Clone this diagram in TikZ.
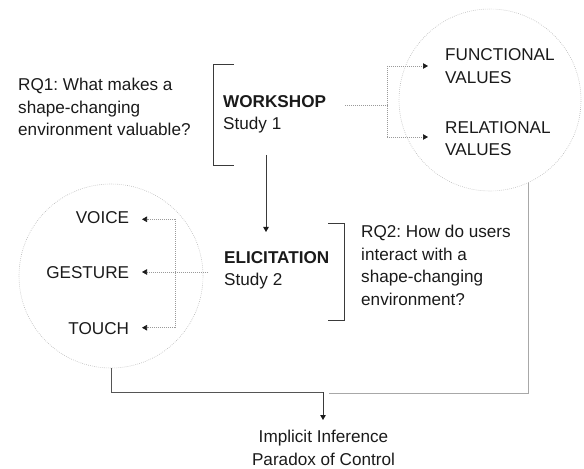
\documentclass[tikz,border=0pt]{standalone}
\usepackage{fontspec}
\setmainfont{Liberation Sans}
\usetikzlibrary{arrows.meta}
\frenchspacing
\definecolor{ink}{HTML}{1A1A1A}
\definecolor{rule}{HTML}{3A3A3A}
\definecolor{linkgray}{HTML}{9A9A9A}
\definecolor{ringgray}{HTML}{B8B8B8}
\definecolor{darkline}{HTML}{555555}
\definecolor{lightline}{HTML}{A8A8A8}
\begin{document}
\begin{tikzpicture}[x=1bp,y=-1bp,
  lbl/.style={inner sep=0pt, text=ink, font=\fontsize{17.2}{22.7}\selectfont, align=left},
  lblr/.style={lbl, align=right},
  lblc/.style={lbl, align=center},
  ring/.style={circle, draw=ringgray, line width=0.6pt, dash pattern=on 0.7pt off 1.3pt, inner sep=0pt},
  bracket/.style={draw=rule, line width=0.8pt},
  link/.style={draw=linkgray, line width=0.7pt, dash pattern=on 0.8pt off 1.2pt},
  tip/.style={-{Triangle[length=5bp,width=5.5bp,color=ink]}},
  flow/.style={line width=0.8pt},
]
\useasboundingbox (0,0) rectangle (584,469);

% circles grouping the outcomes of each study
\node[ring, minimum size=182bp] (cr) at (490,100) {};
\node[ring, minimum size=184bp] (cl) at (111,276) {};

% research questions (anchored on the baseline of the last line)
\node[lbl, anchor=base west] (rq1) at (18,136)
  {RQ1: What makes a\\shape-changing\\environment valuable?};
\node[lbl, anchor=base west] (rq2) at (361,305.3)
  {RQ2: How do users\\interact with a\\shape-changing\\environment?};

% studies
\node[lbl, anchor=base west] (ws) at (223,130) {\textbf{WORKSHOP}\\Study 1};
\node[lbl, anchor=base west] (el) at (224,286) {\textbf{ELICITATION}\\Study 2};

% brackets
\draw[bracket] (234,64) -- (213,64) -- (213,165) -- (234,165);
\draw[bracket] (328,223) -- (344,223) -- (344,320) -- (328,320);

% study 1 -> study 2
\coordinate (wsdown) at (266,155);
\coordinate (eltop) at (266,232);
\draw[flow, draw=rule, tip] (wsdown) -- (eltop);

% values of the workshop
\node[lbl, anchor=base west] (fv) at (445,83.3) {FUNCTIONAL\\VALUES};
\node[lbl, anchor=base west] (rv) at (445,156) {RELATIONAL\\VALUES};
\coordinate (wsout) at (345,105);
\coordinate (wsj) at (387,105);
\coordinate (fvtip) at (428,66);
\coordinate (rvtip) at (428,137);
\draw[link] (wsout) -- (wsj);
\draw[link] (fvtip -| wsj) -- (rvtip -| wsj);
\draw[link, tip] (fvtip -| wsj) -- (fvtip);
\draw[link, tip] (rvtip -| wsj) -- (rvtip);

% modalities of the elicitation
\node[lblr, anchor=base east] (voice) at (129.3,224) {VOICE};
\node[lblr, anchor=base east] (gesture) at (129.3,278.7) {GESTURE};
\node[lblr, anchor=base east] (touch) at (129.3,334) {TOUCH};
\coordinate (elout) at (208,272);
\coordinate (elj) at (175,272);
\coordinate (votip) at (142,219.3);
\coordinate (getip) at (142,272);
\coordinate (totip) at (142,327.7);
\draw[link] (votip -| elj) -- (totip -| elj);
\draw[link, tip] (elout) -- (getip);
\draw[link, tip] (votip -| elj) -- (votip);
\draw[link, tip] (totip -| elj) -- (totip);

% both studies lead to the findings
\node[lblc, anchor=base] (out) at (323.5,465) {Implicit Inference\\Paradox of Control};
\coordinate (lbend) at (111,392);
\coordinate (mid) at (323,392);
\coordinate (outtip) at (323,420);
\coordinate (rbend) at (528,393);
\coordinate (rend) at (329,393);
\draw[flow, draw=darkline] (cl.south) -- (lbend) -- (mid);
\draw[flow, draw=rule, tip] (mid) -- (outtip);
\draw[flow, draw=lightline] (cr.south -| rbend) ++(0,-8) -- (rbend) -- (rend);
\end{tikzpicture}
\end{document}
